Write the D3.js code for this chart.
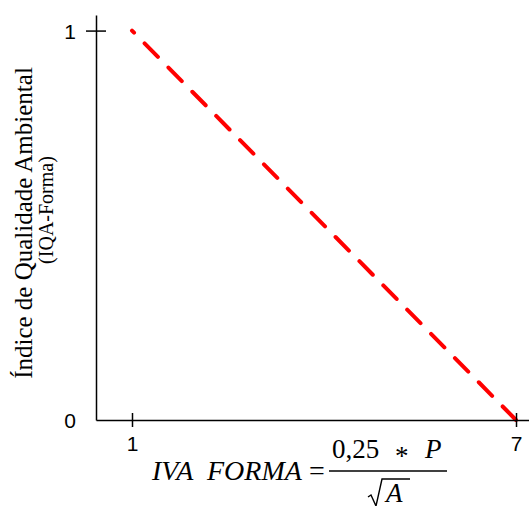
<!DOCTYPE html>
<html>
<head>
<meta charset="utf-8">
<script src="https://cdn.jsdelivr.net/npm/d3@7"></script>
<style>
  body { margin: 0; background: #fff; }
  svg { display: block; }
  .tick text { font-family: "Liberation Sans", Arial, sans-serif; font-size: 21px; }
</style>
</head>
<body>
<div id="chart"></div>
<script>
// data
const xTicks = [1, 7];
const yTicks = [0, 1];
const lineX = [7, 1];
const lineY = [0, 1];
const yLabel1 = "Índice de Qualidade Ambiental";
const yLabel2 = "(IQA-Forma)";

const width = 529;
const height = 506;

const svg = d3.select("#chart")
  .append("svg")
  .attr("width", width)
  .attr("height", height);

const x = d3.scaleLinear().domain([0.4375, 7.203]).range([96, 529]);
const y = d3.scaleLinear().domain([0, 1.04]).range([420, 15]);

// line
const pts = lineX.map((v, i) => ({ x: v, y: lineY[i] }));
const line = d3.line().x(d => x(d.x)).y(d => y(d.y));

svg.append("path")
  .attr("d", line(pts))
  .attr("fill", "none")
  .attr("stroke", "#ff0000")
  .attr("stroke-width", 4)
  .attr("stroke-linecap", "round")
  .attr("stroke-dasharray", "19,15");

// x axis
const xAxis = svg.append("g")
  .attr("transform", `translate(0,${y(0)})`)
  .call(d3.axisBottom(x).tickValues(xTicks).tickSize(7).tickSizeOuter(0).tickFormat(d3.format("d")));
xAxis.select(".domain").attr("stroke-width", 1.5);
xAxis.selectAll(".tick line").attr("y1", -7).attr("stroke-width", 1.5);
xAxis.selectAll(".tick text")
  .attr("y", 31)
  .attr("dy", 0)
  .attr("fill", "#000");

// y axis
const yAxis = svg.append("g")
  .attr("transform", `translate(${x.range()[0]},0)`)
  .call(d3.axisLeft(y).tickValues(yTicks).tickSize(10).tickSizeOuter(0).tickFormat(d3.format("d")));
yAxis.select(".domain").attr("stroke-width", 1.5);
yAxis.selectAll(".tick line")
  .attr("x1", 10)
  .attr("stroke-width", 1.5)
  .attr("display", d => d === 0 ? "none" : null);
yAxis.selectAll(".tick text")
  .attr("x", -20)
  .attr("dy", "0.36em")
  .attr("fill", "#000");

// y label
const serif = "'Liberation Serif', 'Times New Roman', serif";
svg.append("text")
  .attr("transform", "translate(32,223) rotate(-90)")
  .attr("text-anchor", "middle")
  .style("font-family", serif)
  .style("font-size", "25px")
  .text(yLabel1);
svg.append("text")
  .attr("transform", "translate(53,210) rotate(-90)")
  .attr("text-anchor", "middle")
  .style("font-family", serif)
  .style("font-size", "20px")
  .text(yLabel2);

// formula
const f = svg.append("g").style("font-family", serif).attr("fill", "#000");
f.append("text")
  .attr("x", 152).attr("y", 480)
  .style("font-size", "28px").style("font-style", "italic")
  .attr("xml:space", "preserve")
  .text("IVA  FORMA");
f.append("text")
  .attr("x", 309).attr("y", 480)
  .style("font-size", "28px")
  .text("=");
f.append("text")
  .attr("x", 332).attr("y", 458)
  .style("font-size", "27px")
  .text("0,25");
f.append("text")
  .attr("x", 395).attr("y", 465)
  .style("font-size", "27px")
  .text("*");
f.append("text")
  .attr("x", 425).attr("y", 458)
  .style("font-size", "27px").style("font-style", "italic")
  .text("P");
f.append("line")
  .attr("x1", 329).attr("x2", 447)
  .attr("y1", 471).attr("y2", 471)
  .attr("stroke", "#000").attr("stroke-width", 1.3);
// radical sign
const rad = d3.path();
rad.moveTo(368, 497);
rad.lineTo(371, 495);
rad.lineTo(376, 506);
rad.lineTo(382, 479);
rad.lineTo(410, 479);
f.append("path")
  .attr("d", rad.toString())
  .attr("fill", "none")
  .attr("stroke", "#000")
  .attr("stroke-width", 1.4);
f.append("text")
  .attr("x", 386).attr("y", 502)
  .style("font-size", "27px").style("font-style", "italic")
  .text("A");
</script>
</body>
</html>
